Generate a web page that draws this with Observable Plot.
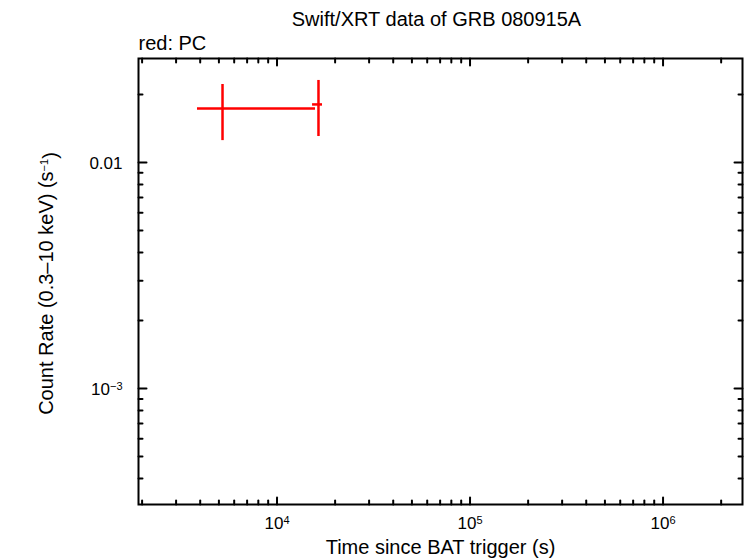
<!DOCTYPE html>
<html>
<head>
<meta charset="utf-8">
<script src="https://cdn.jsdelivr.net/npm/d3@7"></script>
<script src="https://cdn.jsdelivr.net/npm/@observablehq/plot@0.6"></script>
<style>
  html, body { margin: 0; padding: 0; background: #fff; }
  #chart svg { display: block; }
</style>
</head>
<body>
<div id="chart"></div>
<script>
// Data (PC mode, red)
const timeMid = [5220, 16400];
const timeLo  = [3873, 15280];
const timeHi  = [15830, 17210];
const rate    = [0.01734, 0.01807];
const rateLo  = [0.01250, 0.01303];
const rateHi  = [0.02214, 0.02307];

// Ticks
const xMajor = [1e4, 1e5, 1e6];
const xMajorLabels = ["10\u2074", "10\u2075", "10\u2076"];
const xMinor = [2e3,3e3,4e3,5e3,6e3,7e3,8e3,9e3,2e4,3e4,4e4,5e4,6e4,7e4,8e4,9e4,2e5,3e5,4e5,5e5,6e5,7e5,8e5,9e5,2e6];
const yMajor = [1e-3, 1e-2];
const yMajorLabels = ["10\u207B\u00B3", "0.01"];
const yMinor = [4e-4,5e-4,6e-4,7e-4,8e-4,9e-4,2e-3,3e-3,4e-3,5e-3,6e-3,7e-3,8e-3,9e-3,2e-2];

const titleText = "Swift/XRT data of GRB 080915A";
const legendText = "red: PC";
const xLabel = "Time since BAT trigger (s)";
const yLabel = "Count Rate (0.3\u201310 keV) (s\u207B\u00B9)";

const data = timeMid.map((t, i) => ({x: t, x1: timeLo[i], x2: timeHi[i], y: rate[i], y1: rateLo[i], y2: rateHi[i]}));
const xTickData = xMajor.map((v, i) => ({v, label: xMajorLabels[i]}));
const yTickData = yMajor.map((v, i) => ({v, label: yMajorLabels[i]}));

const font = "'Liberation Sans', Arial, Helvetica, sans-serif";
const tickShape = {draw(ctx, l) { ctx.moveTo(0, 0); ctx.lineTo(0, -l); }};
const MAJ = 7, MIN = 4;

function ticks(values, dim, anchor, rotate, len) {
  const o = {frameAnchor: anchor, rotate, length: len, anchor: "start", shape: tickShape, stroke: "black", strokeWidth: 2};
  o[dim] = d => d;
  return Plot.vector(values, o);
}

const plot = Plot.plot({
  width: 746,
  height: 558,
  marginLeft: 138,
  marginRight: 4,
  marginTop: 58,
  marginBottom: 54,
  style: {fontFamily: font, fontSize: "16px", background: "white", color: "black"},
  x: {type: "log", domain: [1916, 2.58e6], axis: null},
  y: {type: "log", domain: [3.07e-4, 0.02885], axis: null},
  marks: [
    Plot.frame({stroke: "black", strokeWidth: 2}),
    ticks(xMajor, "x", "bottom", 0, MAJ),
    ticks(xMinor, "x", "bottom", 0, MIN),
    ticks(xMajor, "x", "top", 180, MAJ),
    ticks(xMinor, "x", "top", 180, MIN),
    ticks(yMajor, "y", "left", 90, MAJ + 1),
    ticks(yMinor, "y", "left", 90, MIN),
    ticks(yMajor, "y", "right", -90, MAJ + 1),
    ticks(yMinor, "y", "right", -90, MIN),
    Plot.text(xTickData, {x: "v", text: "label", frameAnchor: "bottom", lineAnchor: "middle", dy: 19, fontSize: 17, fill: "black", className: "sup"}),
    Plot.text(yTickData, {y: "v", text: "label", frameAnchor: "left", lineAnchor: "middle", dx: -16, dy: 1, textAnchor: "end", fontSize: 17, fill: "black", className: "sup"}),
    Plot.text([xLabel], {frameAnchor: "bottom", lineAnchor: "middle", dy: 43, fontSize: 20, fill: "black"}),
    Plot.text([yLabel], {frameAnchor: "left", lineAnchor: "middle", textAnchor: "middle", dx: -92, dy: 2, rotate: -90, fontSize: 20, fill: "black", className: "sup"}),
    Plot.text([titleText], {frameAnchor: "top", lineAnchor: "middle", dy: -39, dx: -4, fontSize: 20, fill: "black"}),
    Plot.text([legendText], {frameAnchor: "top-left", lineAnchor: "middle", dy: -15, textAnchor: "start", fontSize: 20, fill: "black"}),
    Plot.ruleY(data, {y: "y", x1: "x1", x2: "x2", stroke: "#ff0000", strokeWidth: 2.5}),
    Plot.ruleX(data, {x: "x", y1: "y1", y2: "y2", stroke: "#ff0000", strokeWidth: 2.5})
  ]
});

// Turn Unicode superscript characters into real superscript tspans
const supMap = {"\u2070":"0","\u00B9":"1","\u00B2":"2","\u00B3":"3","\u2074":"4","\u2075":"5","\u2076":"6","\u2077":"7","\u2078":"8","\u2079":"9","\u207B":"\u2212"};
d3.select(plot).selectAll("g.sup text").each(function() {
  const s = this.textContent;
  const parts = [];
  let cur = "", curSup = false;
  for (const ch of s) {
    const isSup = ch in supMap;
    if (isSup !== curSup && cur) { parts.push({t: cur, sup: curSup}); cur = ""; }
    curSup = isSup;
    cur += isSup ? supMap[ch] : ch;
  }
  if (cur) parts.push({t: cur, sup: curSup});
  if (!parts.some(p => p.sup)) return;
  const el = d3.select(this);
  el.text(null);
  let raised = false;
  for (const p of parts) {
    const ts = el.append("tspan").text(p.t);
    if (p.sup) {
      ts.attr("font-size", "11px").attr("dy", raised ? null : "-0.45em");
      raised = true;
    } else if (raised) {
      ts.attr("dy", "0.45em");
      raised = false;
    }
  }
});
document.getElementById("chart").appendChild(plot);
</script>
</body>
</html>
